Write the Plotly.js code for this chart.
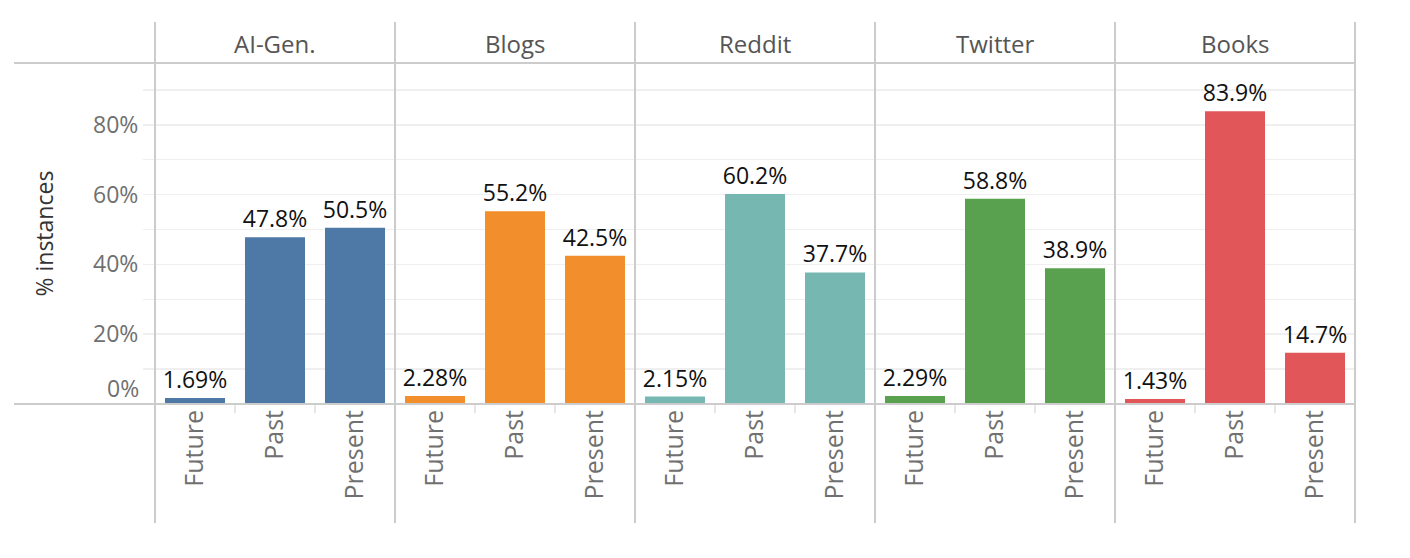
<!DOCTYPE html>
<html>
<head>
<meta charset="utf-8">
<script src="https://cdn.plot.ly/plotly-3.0.1.min.js"></script>
<style>html,body{margin:0;padding:0;background:#fff;}#chart{width:1410px;height:558px;}</style>
</head>
<body>
<div id="chart"></div>
<script>
// ---- data ----
const categories = ['Future', 'Past', 'Present'];
const sources = ['AI-Gen.', 'Blogs', 'Reddit', 'Twitter', 'Books'];
const aiGenValues = [1.69, 47.8, 50.5];
const blogsValues = [2.28, 55.2, 42.5];
const redditValues = [2.15, 60.2, 37.7];
const twitterValues = [2.29, 58.8, 38.9];
const booksValues = [1.43, 83.9, 14.7];
const yTickVals = [0, 20, 40, 60, 80];
const yTickText = ['0%', '20%', '40%', '60%', '80%'];
const yGridVals = [10, 30, 50, 70, 90];
const yTitle = '% instances';

// ---- styling ----
const colors = ['#4e79a7', '#f28e2b', '#76b7b2', '#59a14f', '#e15759'];
const seriesValues = [aiGenValues, blogsValues, redditValues, twitterValues, booksValues];
const FONT = '"Open Sans", "DejaVu Sans", sans-serif';
const W = 1410, H = 558;
const M = {l: 155, r: 55, t: 63, b: 154};
const PW = W - M.l - M.r, PH = H - M.t - M.b;
const px = x => (x - M.l) / PW;
const py = y => (H - M.b - y) / PH;
const lineColor = '#cccccc';
const gridColor = '#efefef';
const tickFont = {size: 23, color: '#707070'};

const traces = [];
const layout = {
  width: W, height: H,
  margin: M,
  paper_bgcolor: '#fff', plot_bgcolor: '#fff',
  showlegend: false,
  font: {family: FONT, color: '#666'},
  bargap: 0.25,
  yaxis: {
    range: [0, 97.7],
    tickmode: 'array', tickvals: yTickVals,
    // the baseline label is drawn raised (as in the reference) via an annotation below
    ticktext: yTickText.map((t, i) => i === 0 ? '' : t),
    tickfont: tickFont,
    showgrid: true, gridcolor: gridColor, gridwidth: 1.5,
    ticks: 'outside', ticklen: 11, tickcolor: gridColor, tickwidth: 1.5,
    minor: {tickmode: 'array', tickvals: yGridVals, showgrid: true, gridcolor: gridColor, gridwidth: 1.5,
            ticks: 'outside', ticklen: 11, tickcolor: gridColor, tickwidth: 1.5},
    zeroline: false, showline: false, fixedrange: true,
    anchor: 'x'
  },
  shapes: [],
  annotations: []
};

sources.forEach((src, i) => {
  const xa = i === 0 ? 'x' : 'x' + (i + 1);
  const xaKey = i === 0 ? 'xaxis' : 'xaxis' + (i + 1);
  traces.push({
    type: 'bar', x: categories, y: seriesValues[i], name: src,
    xaxis: xa, yaxis: 'y',
    marker: {color: colors[i]},
    width: 0.75,
    texttemplate: '%{y:.3g}%', textposition: 'outside', cliponaxis: false,
    constraintext: 'none',
    textfont: {size: 23, color: '#111'},
    hoverinfo: 'skip'
  });
  layout[xaKey] = {
    domain: [i / sources.length, (i + 1) / sources.length],
    anchor: 'y', type: 'category', range: [-0.5, 2.5],
    tickangle: -90, tickfont: {size: 25, color: '#707070'},
    ticks: 'outside', tickson: 'boundaries', ticklen: 8, tickcolor: '#e6e6e6', tickwidth: 1.5,
    showgrid: false, showline: false, zeroline: false, fixedrange: true
  };
  layout.annotations.push({
    xref: 'paper', yref: 'paper',
    x: (i + 0.5) / sources.length, y: py(43),
    text: src, showarrow: false, xanchor: 'center', yanchor: 'middle',
    font: {size: 24, color: '#555'}
  });
});

// raised baseline tick label
layout.annotations.push({
  xref: 'paper', yref: 'y', x: px(141), y: yTickVals[0], yshift: 16,
  text: yTickText[0], showarrow: false, xanchor: 'right', yanchor: 'middle',
  font: tickFont
});

// frame lines
layout.shapes.push({type: 'line', xref: 'paper', yref: 'paper', x0: px(14), x1: px(1355), y0: 1, y1: 1, line: {color: lineColor, width: 2}});
layout.shapes.push({type: 'line', xref: 'paper', yref: 'paper', x0: px(14), x1: px(1355), y0: 0, y1: 0, line: {color: lineColor, width: 2}});
for (let k = 0; k <= sources.length; k++) {
  const xv = k / sources.length;
  layout.shapes.push({type: 'line', xref: 'paper', yref: 'paper', x0: xv, x1: xv, y0: py(523), y1: py(22), line: {color: lineColor, width: 2}});
}

// y title
layout.annotations.push({
  xref: 'paper', yref: 'paper', x: px(43), y: 0.5,
  text: yTitle, textangle: -90, showarrow: false, xanchor: 'center', yanchor: 'middle',
  font: {size: 23, color: '#333'}
});

Plotly.newPlot('chart', traces, layout, {displayModeBar: false, staticPlot: true});
</script>
</body>
</html>
